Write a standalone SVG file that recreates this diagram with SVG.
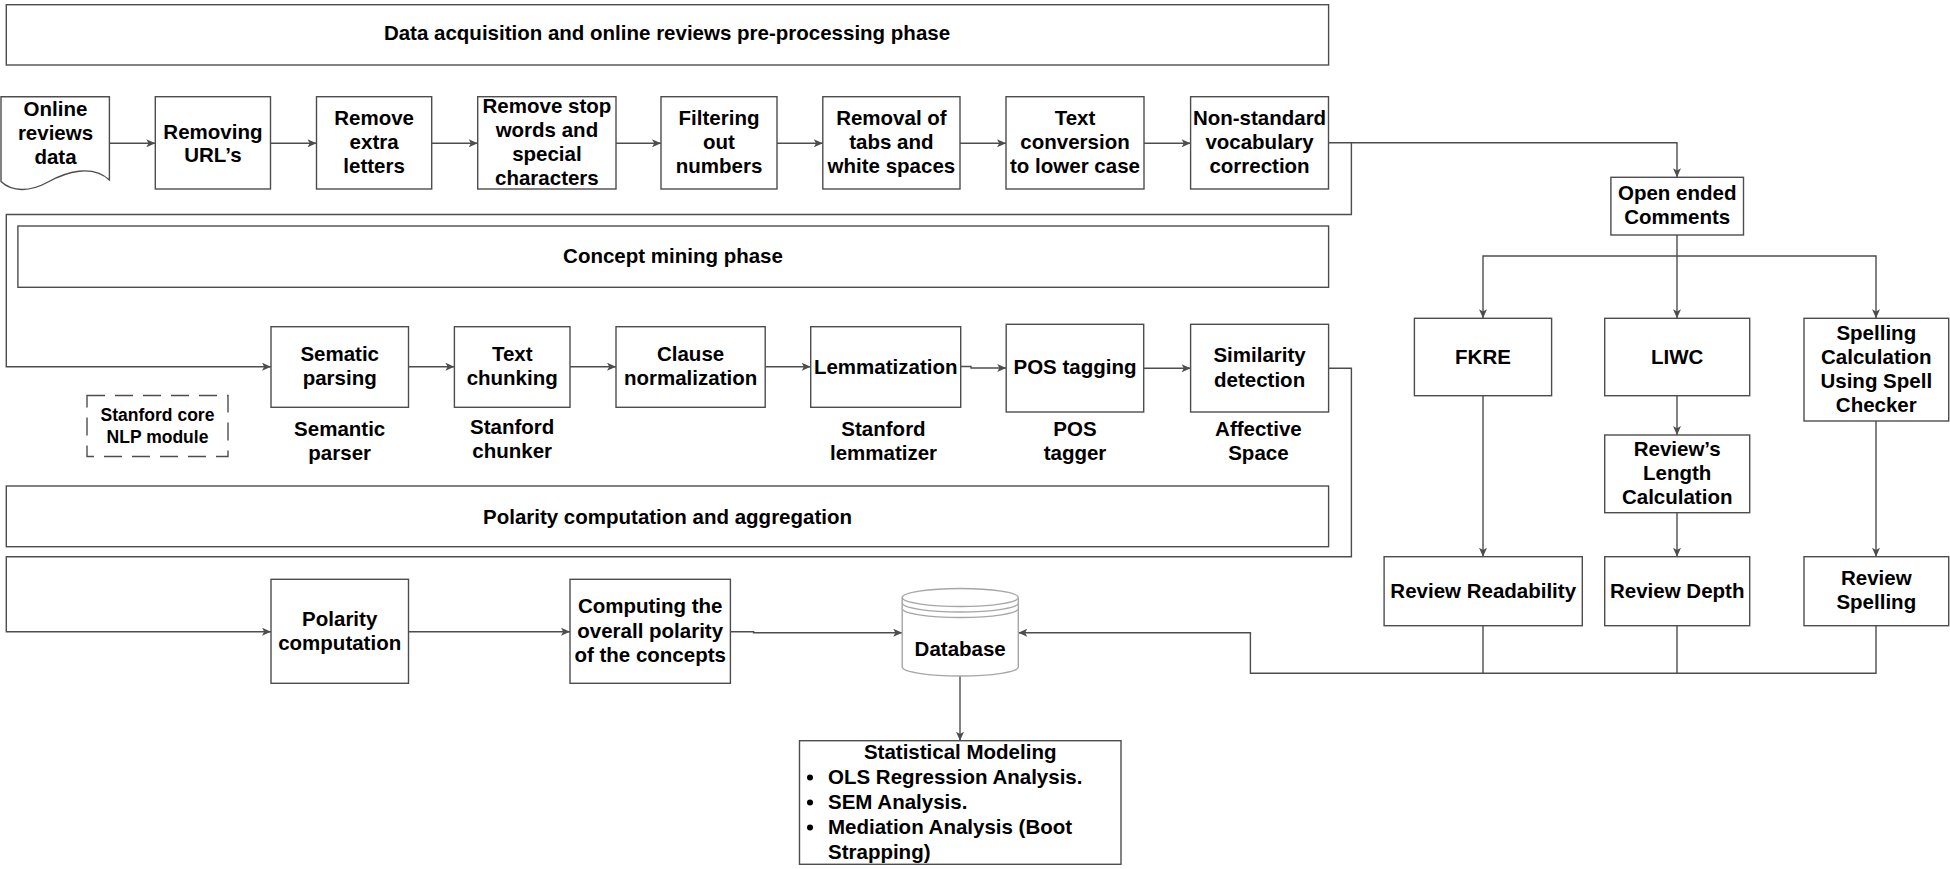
<svg xmlns="http://www.w3.org/2000/svg" width="1950" height="869" viewBox="0 0 1950 869">
<style>
  .box{fill:#fff;stroke:#4d4d4d;stroke-width:1.4}
  .ln{fill:none;stroke:#4d4d4d;stroke-width:1.4}
  .t{font-family:"Liberation Sans",Arial,sans-serif;font-weight:bold;font-size:20.5px;fill:#000;text-anchor:middle}
  .s{font-size:17.5px}
  .l{text-anchor:start}
  .dash{fill:#fff;stroke:#4d4d4d;stroke-width:1.4;stroke-dasharray:18 10}
  .db{fill:#fff;stroke:#a6a6a6;stroke-width:1.4}
</style>
<defs>
  <marker id="ah" markerUnits="userSpaceOnUse" markerWidth="10" markerHeight="8" viewBox="0 0 9 8" refX="9" refY="4" orient="auto">
    <path d="M0,0 L9,4 L0,8 L2.2,4 Z" fill="#4d4d4d"/>
  </marker>
</defs>
<rect width="1950" height="869" fill="#fff"/>

<g id="connectors">
  <path class="ln" d="M109.4,143.3 H155.3" marker-end="url(#ah)"/>
  <path class="ln" d="M270.5,143.3 H316.5" marker-end="url(#ah)"/>
  <path class="ln" d="M431.7,143.3 H477.7" marker-end="url(#ah)"/>
  <path class="ln" d="M616,143.3 H661" marker-end="url(#ah)"/>
  <path class="ln" d="M777,143.3 H822.8" marker-end="url(#ah)"/>
  <path class="ln" d="M960,143.3 H1006" marker-end="url(#ah)"/>
  <path class="ln" d="M1144,143.3 H1190.6" marker-end="url(#ah)"/>
  <path class="ln" d="M1328.5,142.7 H1677 V177.3" marker-end="url(#ah)"/>
  <path class="ln" d="M1351.4,142.7 V214.5 H6.3 V366.7 H271" marker-end="url(#ah)"/>
  <path class="ln" d="M1677,235 V256 H1483 V318.3" marker-end="url(#ah)"/>
  <path class="ln" d="M1677,256 V318.3" marker-end="url(#ah)"/>
  <path class="ln" d="M1677,256 H1876 V318.3" marker-end="url(#ah)"/>
  <path class="ln" d="M408.5,366.7 H454.4" marker-end="url(#ah)"/>
  <path class="ln" d="M570,366.7 H616" marker-end="url(#ah)"/>
  <path class="ln" d="M765.2,366.7 H810.7" marker-end="url(#ah)"/>
  <path class="ln" d="M960.7,366.5 H971 V368 H1006.2" marker-end="url(#ah)"/>
  <path class="ln" d="M1143.7,368.3 H1190.6" marker-end="url(#ah)"/>
  <path class="ln" d="M1328.6,368.3 H1351.4 V556.7 H6.3 V631.7 H271" marker-end="url(#ah)"/>
  <path class="ln" d="M408.5,631.7 H570" marker-end="url(#ah)"/>
  <path class="ln" d="M730.4,631.7 H753.6 V632.7 H902.2" marker-end="url(#ah)"/>
  <path class="ln" d="M1483,395.7 V556.7" marker-end="url(#ah)"/>
  <path class="ln" d="M1677,395.7 V435" marker-end="url(#ah)"/>
  <path class="ln" d="M1677,512.7 V556.7" marker-end="url(#ah)"/>
  <path class="ln" d="M1876,421 V556.7" marker-end="url(#ah)"/>
  <path class="ln" d="M1483,625.7 V673.3 M1677,625.7 V673.3"/>
  <path class="ln" d="M1876,625.7 V673.3 H1250.4 V632.7 H1018.3" marker-end="url(#ah)"/>
  <path class="ln" d="M960,676 V740.7" marker-end="url(#ah)"/>
</g>

<g id="phase1">
  <rect class="box" x="6.3" y="4.7" width="1322.3" height="60.3"/>
  <text class="t" x="667" y="40">Data acquisition and online reviews pre-processing phase</text>
</g>

<g id="online-reviews">
  <path class="box" d="M1,96.7 H109.4 V180 C92,164 66,172 48,182 C30,192 12,192 1,181.5 Z"/>
  <text class="t" x="55.5" y="116">Online</text>
  <text class="t" x="55.5" y="140">reviews</text>
  <text class="t" x="55.5" y="164">data</text>
</g>

<g id="removing-urls">
  <rect class="box" x="155.3" y="96.7" width="115.2" height="92.3"/>
  <text class="t" x="212.9" y="139">Removing</text>
  <text class="t" x="212.9" y="162">URL’s</text>
</g>

<g id="remove-extra">
  <rect class="box" x="316.5" y="96.7" width="115.2" height="92.3"/>
  <text class="t" x="374.1" y="125">Remove</text>
  <text class="t" x="374.1" y="149">extra</text>
  <text class="t" x="374.1" y="173">letters</text>
</g>

<g id="remove-stop">
  <rect class="box" x="477.7" y="96.7" width="138.3" height="92.3"/>
  <text class="t" x="546.9" y="113">Remove stop</text>
  <text class="t" x="546.9" y="137">words and</text>
  <text class="t" x="546.9" y="161">special</text>
  <text class="t" x="546.9" y="185">characters</text>
</g>

<g id="filtering">
  <rect class="box" x="661" y="96.7" width="116" height="92.3"/>
  <text class="t" x="719" y="125">Filtering</text>
  <text class="t" x="719" y="149">out</text>
  <text class="t" x="719" y="173">numbers</text>
</g>

<g id="removal-tabs">
  <rect class="box" x="822.8" y="96.7" width="137.2" height="92.3"/>
  <text class="t" x="891.4" y="125">Removal of</text>
  <text class="t" x="891.4" y="149">tabs and</text>
  <text class="t" x="891.4" y="173">white spaces</text>
</g>

<g id="lower-case">
  <rect class="box" x="1006" y="96.7" width="138" height="92.3"/>
  <text class="t" x="1075" y="125">Text</text>
  <text class="t" x="1075" y="149">conversion</text>
  <text class="t" x="1075" y="173">to lower case</text>
</g>

<g id="non-standard">
  <rect class="box" x="1190.6" y="96.7" width="137.9" height="92.3"/>
  <text class="t" x="1259.5" y="125">Non-standard</text>
  <text class="t" x="1259.5" y="149">vocabulary</text>
  <text class="t" x="1259.5" y="173">correction</text>
</g>

<g id="open-ended">
  <rect class="box" x="1610.9" y="177.3" width="132.6" height="57.7"/>
  <text class="t" x="1677.2" y="200">Open ended</text>
  <text class="t" x="1677.2" y="224">Comments</text>
</g>

<g id="phase2">
  <rect class="box" x="17.9" y="226" width="1310.7" height="61.3"/>
  <text class="t" x="673" y="263">Concept mining phase</text>
</g>

<g id="sematic-parsing">
  <rect class="box" x="271" y="326.7" width="137.5" height="80.6"/>
  <text class="t" x="339.7" y="361">Sematic</text>
  <text class="t" x="339.7" y="385">parsing</text>
  <text class="t" x="339.7" y="436">Semantic</text>
  <text class="t" x="339.7" y="460">parser</text>
</g>

<g id="text-chunking">
  <rect class="box" x="454.4" y="326.7" width="115.6" height="80.6"/>
  <text class="t" x="512.2" y="361">Text</text>
  <text class="t" x="512.2" y="385">chunking</text>
  <text class="t" x="512.2" y="434">Stanford</text>
  <text class="t" x="512.2" y="458">chunker</text>
</g>

<g id="clause-normalization">
  <rect class="box" x="616" y="326.7" width="149.2" height="80.6"/>
  <text class="t" x="690.6" y="361">Clause</text>
  <text class="t" x="690.6" y="385">normalization</text>
</g>

<g id="lemmatization">
  <rect class="box" x="810.7" y="326.7" width="150" height="80.6"/>
  <text class="t" x="885.7" y="374">Lemmatization</text>
  <text class="t" x="883.5" y="436">Stanford</text>
  <text class="t" x="883.5" y="460">lemmatizer</text>
</g>

<g id="pos-tagging">
  <rect class="box" x="1006.2" y="324.3" width="137.5" height="87.7"/>
  <text class="t" x="1075" y="374">POS tagging</text>
  <text class="t" x="1075" y="436">POS</text>
  <text class="t" x="1075" y="460">tagger</text>
</g>

<g id="similarity">
  <rect class="box" x="1190.6" y="324.3" width="138" height="87.7"/>
  <text class="t" x="1259.6" y="362">Similarity</text>
  <text class="t" x="1259.6" y="387">detection</text>
  <text class="t" x="1258.4" y="436">Affective</text>
  <text class="t" x="1258.4" y="460">Space</text>
</g>

<g id="stanford-core">
  <rect class="dash" x="87" y="395.5" width="141" height="61"/>
  <text class="t s" x="157.5" y="421">Stanford core</text>
  <text class="t s" x="157.5" y="443">NLP module</text>
</g>

<g id="fkre">
  <rect class="box" x="1414.4" y="318.3" width="137.2" height="77.4"/>
  <text class="t" x="1483" y="364">FKRE</text>
</g>

<g id="liwc">
  <rect class="box" x="1604.7" y="318.3" width="145" height="77.4"/>
  <text class="t" x="1677.2" y="364">LIWC</text>
</g>

<g id="spelling-calc">
  <rect class="box" x="1804" y="318.3" width="144.7" height="102.7"/>
  <text class="t" x="1876.3" y="340">Spelling</text>
  <text class="t" x="1876.3" y="364">Calculation</text>
  <text class="t" x="1876.3" y="388">Using Spell</text>
  <text class="t" x="1876.3" y="412">Checker</text>
</g>

<g id="length-calc">
  <rect class="box" x="1604.7" y="435" width="145" height="77.7"/>
  <text class="t" x="1677.2" y="456">Review’s</text>
  <text class="t" x="1677.2" y="480">Length</text>
  <text class="t" x="1677.2" y="504">Calculation</text>
</g>

<g id="phase3">
  <rect class="box" x="6.3" y="486" width="1322.3" height="60.7"/>
  <text class="t" x="667.5" y="524">Polarity computation and aggregation</text>
</g>

<g id="review-readability">
  <rect class="box" x="1384.1" y="556.7" width="198.2" height="69"/>
  <text class="t" x="1483.2" y="598">Review Readability</text>
</g>

<g id="review-depth">
  <rect class="box" x="1604.7" y="556.7" width="145" height="69"/>
  <text class="t" x="1677.2" y="598">Review Depth</text>
</g>

<g id="review-spelling">
  <rect class="box" x="1804" y="556.7" width="144.7" height="69"/>
  <text class="t" x="1876.3" y="585">Review</text>
  <text class="t" x="1876.3" y="609">Spelling</text>
</g>

<g id="polarity-computation">
  <rect class="box" x="271" y="579.3" width="137.5" height="104"/>
  <text class="t" x="339.7" y="626">Polarity</text>
  <text class="t" x="339.7" y="650">computation</text>
</g>

<g id="overall-polarity">
  <rect class="box" x="570" y="579.3" width="160.4" height="104"/>
  <text class="t" x="650.2" y="613">Computing the</text>
  <text class="t" x="650.2" y="638">overall polarity</text>
  <text class="t" x="650.2" y="662">of the concepts</text>
</g>

<g id="database">
  <path class="db" d="M902.2,597.5 A58,9 0 0,1 1018.3,597.5 V667 A58,9 0 0,1 902.2,667 Z"/>
  <path class="db" d="M902.2,597.5 A58,9 0 0,0 1018.3,597.5 M902.2,603 A58,9 0 0,0 1018.3,603 M902.2,608.5 A58,9 0 0,0 1018.3,608.5"/>
  <text class="t" x="960.2" y="656">Database</text>
</g>

<g id="statistical-modeling">
  <rect class="box" x="799.5" y="740.7" width="321.5" height="123.6"/>
  <text class="t" x="960.2" y="759">Statistical Modeling</text>
  <circle cx="810" cy="777.5" r="3" fill="#000"/>
  <circle cx="810" cy="802.5" r="3" fill="#000"/>
  <circle cx="810" cy="827.5" r="3" fill="#000"/>
  <text class="t l" x="828" y="784">OLS Regression Analysis.</text>
  <text class="t l" x="828" y="809">SEM Analysis.</text>
  <text class="t l" x="828" y="834">Mediation Analysis (Boot</text>
  <text class="t l" x="828" y="859">Strapping)</text>
</g>
</svg>
